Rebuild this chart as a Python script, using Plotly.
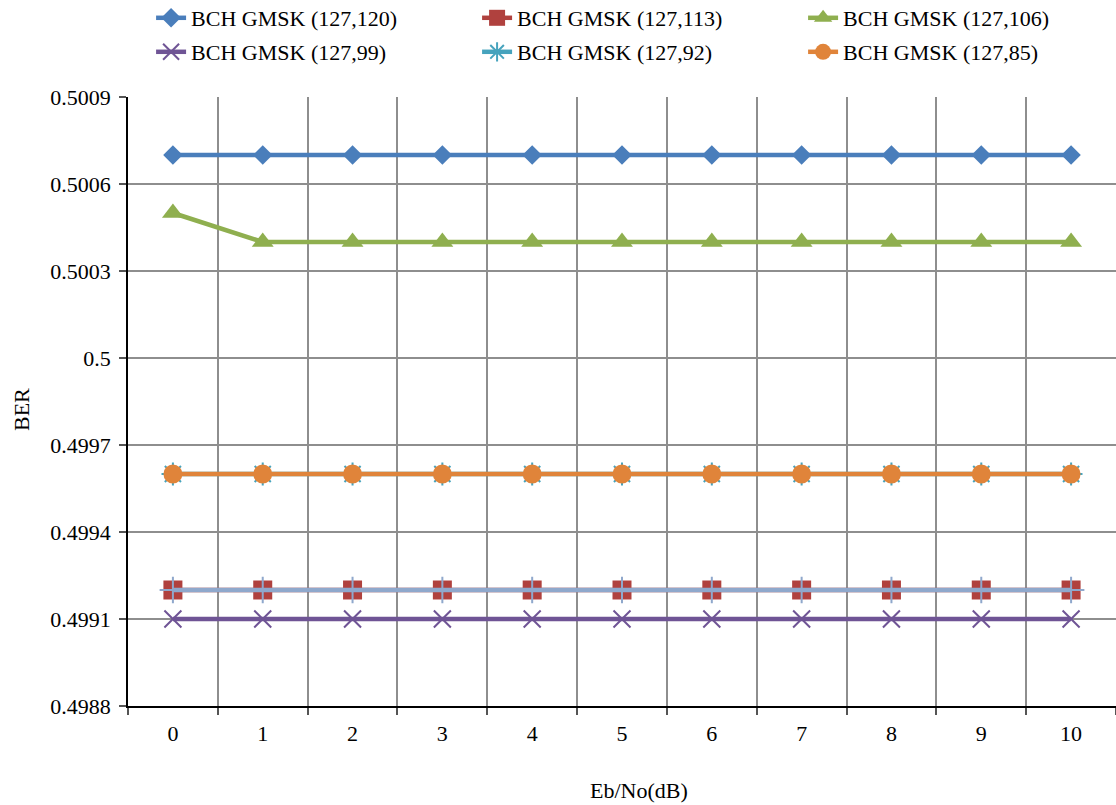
import plotly.graph_objects as go

x_vals = [0, 1, 2, 3, 4, 5, 6, 7, 8, 9, 10]
x_labels = ["0", "1", "2", "3", "4", "5", "6", "7", "8", "9", "10"]

ber_127_120 = [0.5007] * 11
ber_127_113 = [0.4992] * 11
ber_127_106 = [0.5005, 0.5004, 0.5004, 0.5004, 0.5004, 0.5004, 0.5004, 0.5004, 0.5004, 0.5004, 0.5004]
ber_127_99 = [0.4991] * 11
ber_127_92 = [0.4996] * 11
ber_127_85 = [0.4996] * 11
ber_extra = [0.4992] * 11

y_ticks = [0.4988, 0.4991, 0.4994, 0.4997, 0.5, 0.5003, 0.5006, 0.5009]
y_ticklabels = ["0.4988", "0.4991", "0.4994", "0.4997", "0.5", "0.5003", "0.5006", "0.5009"]

FONT = "Liberation Serif"
FS = 22

series = [
    ("BCH GMSK (127,120)", ber_127_120, "#4A7EBB", dict(symbol="diamond", size=15), "legend"),
    ("BCH GMSK (127,113)", ber_127_113, "#B0413E", dict(symbol="square", size=19), "legend"),
    ("BCH GMSK (127,106)", ber_127_106, "#8FAF4F", dict(symbol="triangle-up", size=19), "legend"),
    ("BCH GMSK (127,99)", ber_127_99, "#6F5495", dict(symbol="x-thin-open", size=17, line=dict(width=2, color="#6F5495")), "legend2"),
    ("BCH GMSK (127,92)", ber_127_92, "#46A3BD", dict(symbol="asterisk-open", size=19, line=dict(width=2, color="#46A3BD")), "legend2"),
    ("BCH GMSK (127,85)", ber_127_85, "#E0843A", dict(symbol="circle", size=19), "legend2"),
]

fig = go.Figure()
for name, ys, color, marker, leg in series:
    m = dict(color=color, **marker)
    fig.add_trace(go.Scatter(x=x_vals, y=ys, name=name, mode="lines+markers",
                             line=dict(color=color, width=4.5), marker=m, legend=leg))

fig.add_trace(go.Scatter(x=x_vals, y=ber_extra, name="", mode="lines+markers", showlegend=False,
                         line=dict(color="#8FA8CC", width=4.5),
                         marker=dict(symbol="cross-thin-open", size=19, color="#8FA8CC",
                                     line=dict(width=2, color="#8FA8CC"))))

pw, ph = 1116 - 128, 805 - 97 - 99
def px_to_paper(px, py):
    return (px - 128) / pw, (706 - py) / ph

lx, l1y = px_to_paper(158, 18)
_, l2y = px_to_paper(158, 52)
ax, ay = px_to_paper(22, 410)
bx, by = px_to_paper(639, 790)

leg_common = dict(orientation="h", xanchor="left", yanchor="middle",
                  entrywidth=281, entrywidthmode="pixels", font=dict(size=FS),
                  bgcolor="rgba(0,0,0,0)")

fig.update_layout(
    width=1116, height=805,
    margin=dict(l=128, r=0, t=97, b=99, autoexpand=False),
    paper_bgcolor="white", plot_bgcolor="white",
    font=dict(family=FONT, size=FS, color="black"),
    legend=dict(x=lx - 0.007, y=l1y, **leg_common),
    legend2=dict(x=lx - 0.007, y=l2y, **leg_common),
    xaxis=dict(range=[-0.5, 10.5], tickmode="array", tickvals=x_vals, ticktext=x_labels,
               ticks="", showgrid=False, zeroline=False, showline=True, linecolor="black",
               linewidth=1.5, ticklabelstandoff=7,
               minor=dict(tickmode="array", tickvals=[i - 0.5 for i in range(12)],
                          ticks="outside", ticklen=7, tickcolor="#555555", tickwidth=1.5,
                          showgrid=True, gridcolor="#8E8E8E", gridwidth=1.6)),
    yaxis=dict(range=[0.4988, 0.5009], tickmode="array", tickvals=y_ticks, ticktext=y_ticklabels,
               ticks="outside", ticklen=7, tickcolor="#555555", tickwidth=1.5,
               showgrid=True, gridcolor="#8E8E8E", gridwidth=1.6, zeroline=False,
               showline=True, linecolor="black", linewidth=1.5, ticklabelstandoff=4),
    annotations=[
        dict(text="BER", x=ax, y=ay, xref="paper", yref="paper", showarrow=False,
             xanchor="center", yanchor="middle", textangle=-90, font=dict(size=FS)),
        dict(text="Eb/No(dB)", x=bx, y=by, xref="paper", yref="paper", showarrow=False,
             xanchor="center", yanchor="middle", font=dict(size=FS)),
    ],
)

fig.write_html("out.html")
